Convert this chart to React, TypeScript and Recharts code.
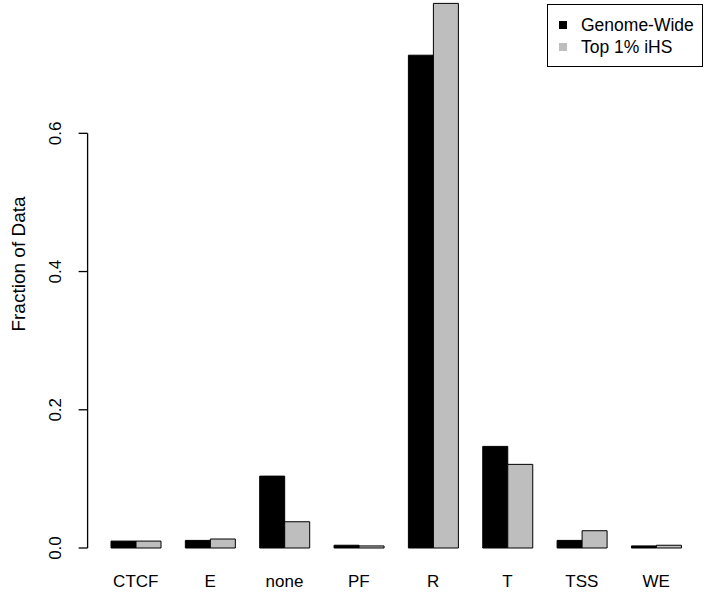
import { Bar, BarChart, XAxis, YAxis } from "recharts";

const CATEGORIES = ["CTCF", "E", "none", "PF", "R", "T", "TSS", "WE"];
const GENOME_WIDE = [0.01, 0.011, 0.104, 0.004, 0.713, 0.147, 0.011, 0.003];
const TOP_IHS = [0.01, 0.013, 0.038, 0.003, 0.788, 0.121, 0.025, 0.004];
const SERIES_NAMES = ["Genome-Wide", "Top 1% iHS"];
const Y_TICKS = [0, 0.2, 0.4, 0.6];
const Y_MAX = 0.79;

const BLACK = "#000000";
const GREY = "#bebebe";
const FONT = "'Liberation Sans', Arial, Helvetica, sans-serif";

const CHART_W = 713;
const CHART_H = 593;
const MARGIN_TOP = 2;
const X_AXIS_H = 45;
const PLOT_H = CHART_H - MARGIN_TOP - X_AXIS_H;

const data = CATEGORIES.map((name, i) => ({
  name,
  genome: GENOME_WIDE[i],
  top: TOP_IHS[i],
}));

// R draws its axis detached from the plot region, so the line and ticks are
// pushed a little to the left of the first bar.
function YTick(props: any) {
  const { x, y, payload } = props;
  const h = typeof props.height === "number" && props.height > 0 ? props.height : PLOT_H;
  const axisX = x - 11;
  const top = y - Y_TICKS[Y_TICKS.length - 1] * (h / Y_MAX);
  const lx = axisX - 32;
  return (
    <g>
      {payload.value === 0 && <line x1={axisX} x2={axisX} y1={y} y2={top} stroke={BLACK} strokeWidth={1.3} />}
      <line x1={axisX - 9} x2={axisX} y1={y} y2={y} stroke={BLACK} strokeWidth={1.3} />
      <text
        x={lx}
        y={y}
        transform={`rotate(-90 ${lx} ${y})`}
        textAnchor="middle"
        dominantBaseline="central"
        fontSize={17}
        fontFamily={FONT}
        fill={BLACK}
      >
        {payload.value.toFixed(1)}
      </text>
    </g>
  );
}

function YLabel({ viewBox }: any) {
  const cx = 18;
  const cy = (viewBox?.y ?? MARGIN_TOP) + (viewBox?.height ?? PLOT_H) / 2 - 11;
  return (
    <text
      x={cx}
      y={cy}
      transform={`rotate(-90 ${cx} ${cy})`}
      textAnchor="middle"
      dominantBaseline="central"
      fontSize={19}
      fontFamily={FONT}
      fill={BLACK}
    >
      Fraction of Data
    </text>
  );
}

function LegendBox() {
  const colors = [BLACK, GREY];
  return (
    <div
      style={{
        position: "absolute",
        left: 547,
        top: 4,
        width: 156,
        height: 63,
        boxSizing: "border-box",
        border: "1.3px solid #000",
        background: "#fff",
        fontFamily: FONT,
        fontSize: 17.5,
        paddingTop: 9,
      }}
    >
      {SERIES_NAMES.map((s, i) => (
        <div key={s} style={{ display: "flex", alignItems: "center", height: 22 }}>
          <span
            style={{ display: "inline-block", width: 8, height: 8, marginLeft: 11, marginRight: 14, background: colors[i] }}
          />
          {s}
        </div>
      ))}
    </div>
  );
}

export default function App() {
  return (
    <div style={{ position: "absolute", left: 0, top: 0, width: CHART_W, height: CHART_H, background: "#fff" }}>
      <BarChart
        width={CHART_W}
        height={CHART_H}
        data={data}
        margin={{ top: MARGIN_TOP, right: 19.6, bottom: 0, left: 0 }}
        barCategoryGap={12.4}
        barGap={0}
      >
        <XAxis
          dataKey="name"
          height={X_AXIS_H}
          axisLine={false}
          tickLine={false}
          tickSize={0}
          tickMargin={27}
          interval={0}
          tick={{ fontSize: 17, fontFamily: FONT, fill: BLACK }}
        />
        <YAxis
          width={98.6}
          domain={[0, Y_MAX]}
          ticks={Y_TICKS}
          axisLine={false}
          tickLine={false}
          tickSize={0}
          tickMargin={0}
          tick={<YTick />}
          label={{ content: <YLabel /> }}
        />
        <Bar dataKey="genome" name={SERIES_NAMES[0]} fill={BLACK} stroke={BLACK} strokeWidth={1} isAnimationActive={false} />
        <Bar dataKey="top" name={SERIES_NAMES[1]} fill={GREY} stroke={BLACK} strokeWidth={1} isAnimationActive={false} />
      </BarChart>
      <LegendBox />
    </div>
  );
}
